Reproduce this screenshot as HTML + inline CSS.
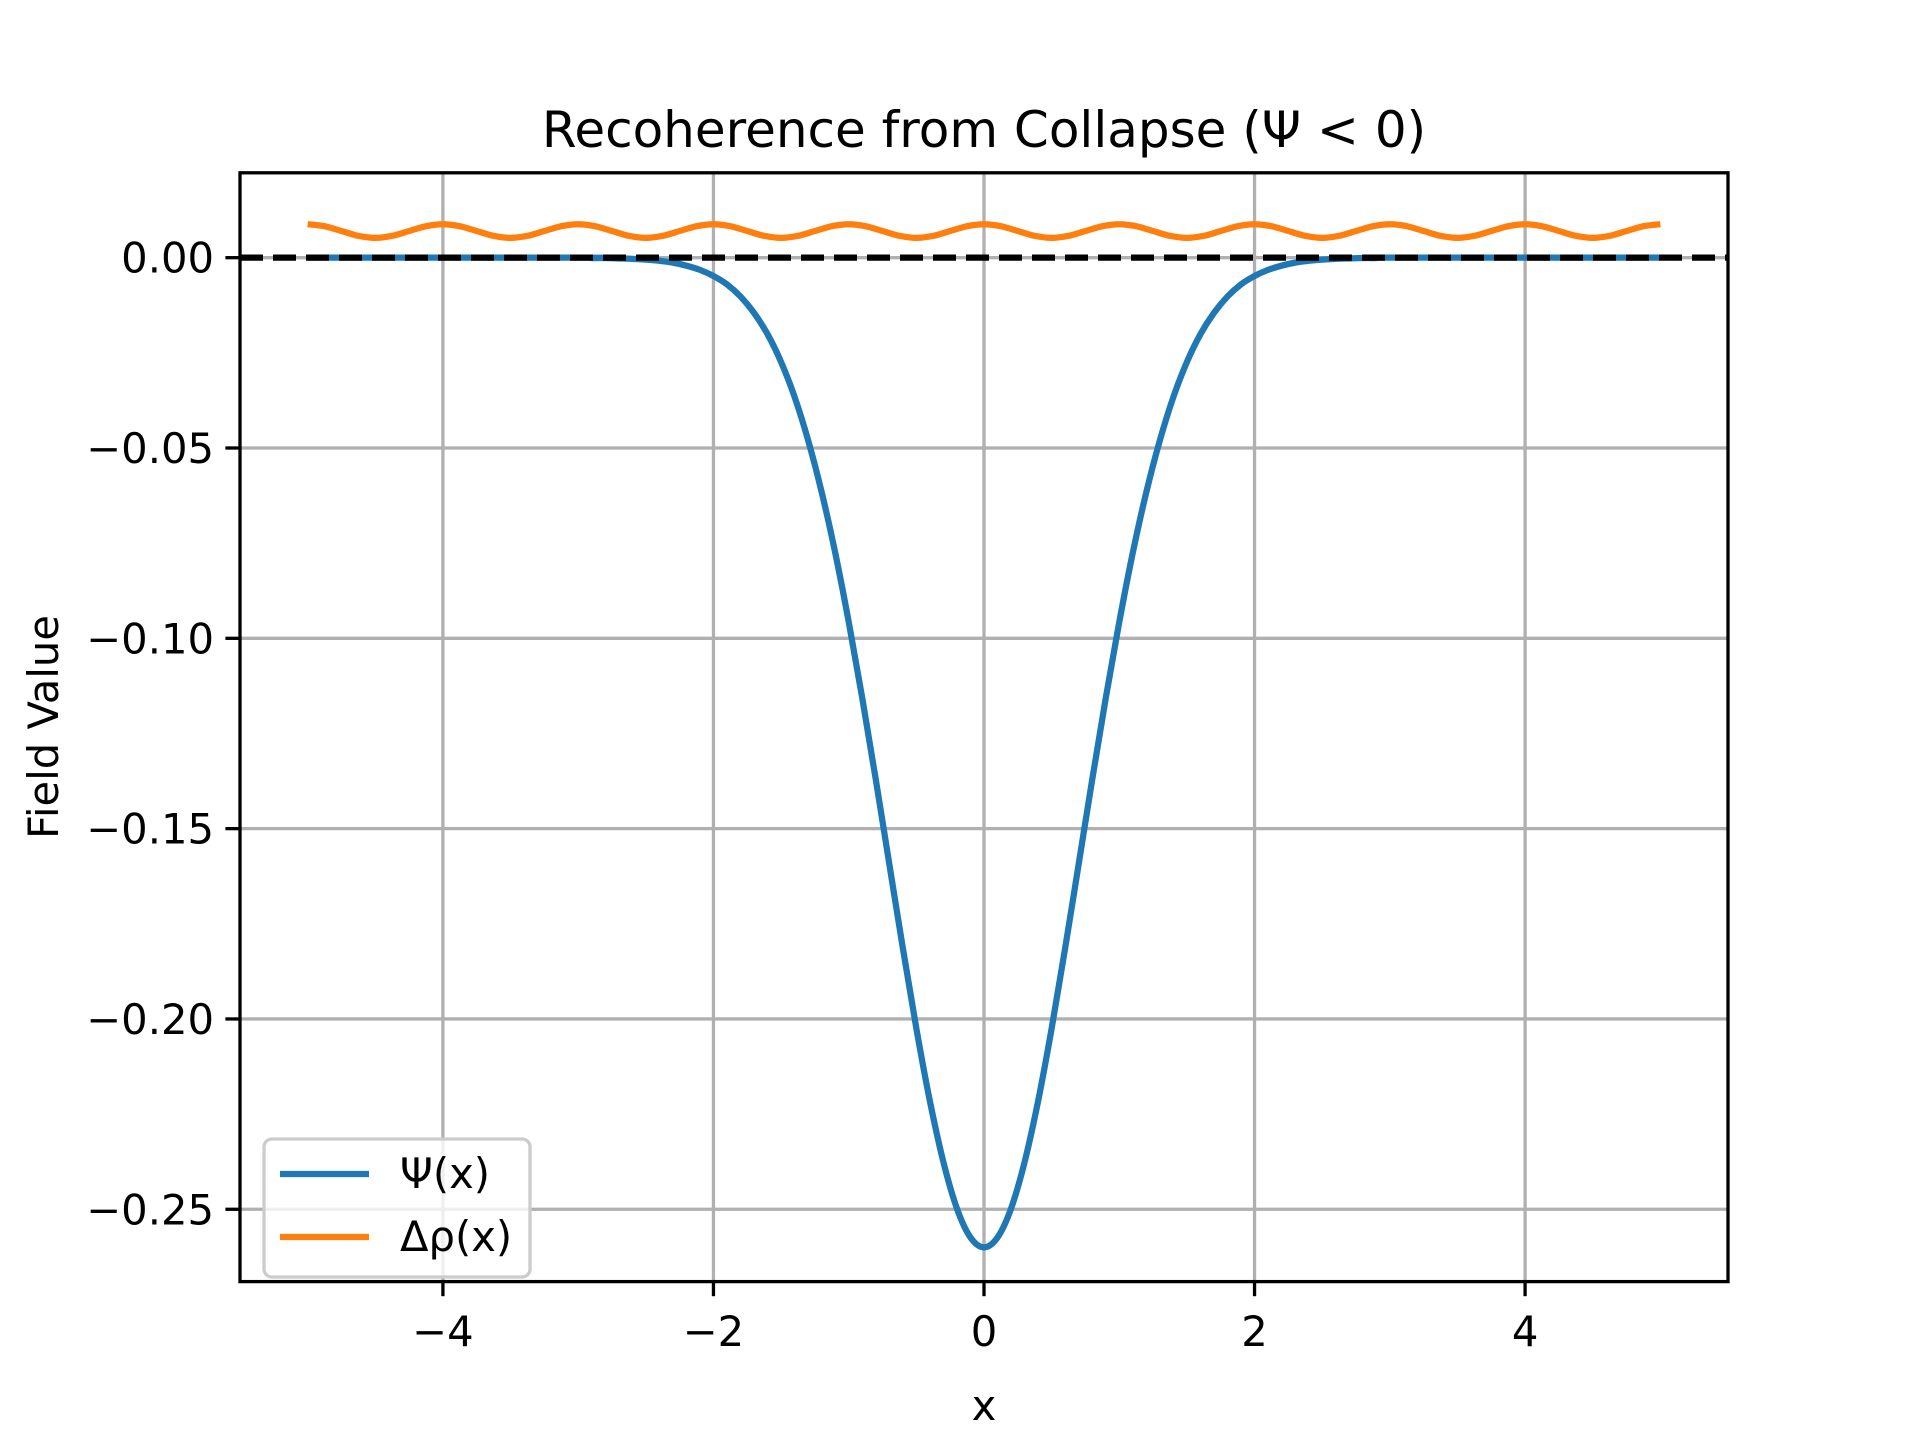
<!DOCTYPE html>
<html><head><meta charset="utf-8"><style>
html,body{margin:0;padding:0;background:#fff;}
svg{display:block;font-family:"DejaVu Sans","Liberation Sans",sans-serif;}
</style></head><body>
<svg id="chart" width="1920" height="1440" viewBox="0 0 1920 1440" xmlns="http://www.w3.org/2000/svg">
<rect width="1920" height="1440" fill="#fff"/>
<text x="984" y="147" font-size="50" text-anchor="middle" fill="#000">Recoherence from Collapse (Ψ &lt; 0)</text>
<g id="grid"></g>
<g id="plot"></g>
<rect x="240" y="172.8" width="1488" height="1108.8" fill="none" stroke="#000" stroke-width="3.3"/>
<g id="ticks"></g>
<text x="984" y="1420" font-size="41.7" text-anchor="middle">x</text>
<text transform="translate(58,727) rotate(-90)" font-size="41.7" text-anchor="middle">Field Value</text>
<g>
<rect x="264" y="1139" width="266" height="138" rx="8" fill="#fff" fill-opacity="0.8" stroke="#ccc" stroke-width="3.3"/>
<line x1="280" y1="1174" x2="369" y2="1174" stroke="#1f77b4" stroke-width="6.25"/>
<text x="400" y="1188" font-size="41.7">Ψ(x)</text>
<line x1="280" y1="1237" x2="369" y2="1237" stroke="#ff7f0e" stroke-width="6.25"/>
<text x="400" y="1251" font-size="41.7">Δρ(x)</text>
</g>
</svg>
<script>
const xTicks = [-4, -2, 0, 2, 4];
const xTickLabels = ["−4", "−2", "0", "2", "4"];
const yTicks = [0, -0.05, -0.10, -0.15, -0.20, -0.25];
const yTickLabels = ["0.00", "−0.05", "−0.10", "−0.15", "−0.20", "−0.25"];
const psiX = [-3,-2.9,-2.8,-2.7,-2.6,-2.5,-2.4,-2.3,-2.2,-2.1,-2,-1.9,-1.8,-1.7,-1.6,-1.5,-1.4,-1.3,-1.2,-1.1,-1,-0.9,-0.8,-0.7,-0.6,-0.5,-0.4,-0.3,-0.2,-0.1,0,0.1,0.2,0.3,0.4,0.5,0.6,0.7,0.8,0.9,1,1.1,1.2,1.3,1.4,1.5,1.6,1.7,1.8,1.9,2,2.1,2.2,2.3,2.4,2.5,2.6,2.7,2.8,2.9,3];
const psiY = [0,-0.0001,-0.0001,-0.0002,-0.0003,-0.0005,-0.0008,-0.0013,-0.0021,-0.0032,-0.0048,-0.0070,-0.0102,-0.0145,-0.0201,-0.0274,-0.0366,-0.0480,-0.0616,-0.0775,-0.0957,-0.1157,-0.1371,-0.1593,-0.1814,-0.2025,-0.2216,-0.2376,-0.2498,-0.2574,-0.2600,-0.2574,-0.2498,-0.2376,-0.2216,-0.2025,-0.1814,-0.1593,-0.1371,-0.1157,-0.0957,-0.0775,-0.0616,-0.0480,-0.0366,-0.0274,-0.0201,-0.0145,-0.0102,-0.0070,-0.0048,-0.0032,-0.0021,-0.0013,-0.0008,-0.0005,-0.0003,-0.0002,-0.0001,-0.0001,0];
const psiTailLeft = [-5, -3];
const psiTailRight = [3, 5];
const rhoStartX = -5;
const rhoStepX = 0.125;
const rhoY = [
0.0088,0.00827,0.0070,0.00573,0.0052,0.00573,0.0070,0.00827,
0.0088,0.00827,0.0070,0.00573,0.0052,0.00573,0.0070,0.00827,
0.0088,0.00827,0.0070,0.00573,0.0052,0.00573,0.0070,0.00827,
0.0088,0.00827,0.0070,0.00573,0.0052,0.00573,0.0070,0.00827,
0.0088,0.00827,0.0070,0.00573,0.0052,0.00573,0.0070,0.00827,
0.0088,0.00827,0.0070,0.00573,0.0052,0.00573,0.0070,0.00827,
0.0088,0.00827,0.0070,0.00573,0.0052,0.00573,0.0070,0.00827,
0.0088,0.00827,0.0070,0.00573,0.0052,0.00573,0.0070,0.00827,
0.0088,0.00827,0.0070,0.00573,0.0052,0.00573,0.0070,0.00827,
0.0088,0.00827,0.0070,0.00573,0.0052,0.00573,0.0070,0.00827,
0.0088];
const baselineY = 0;

const NS = "http://www.w3.org/2000/svg";
const L = 240, R = 1728, T = 172.8, B = 1281.6;
const xMin = -5.5, xMax = 5.5, yMin = -0.2690, yMax = 0.0223;
function sx(v){ return L + (v - xMin) / (xMax - xMin) * (R - L); }
function sy(v){ return B - (v - yMin) / (yMax - yMin) * (B - T); }
function mk(tag, attrs, parent){ const e = document.createElementNS(NS, tag); for (const k in attrs) e.setAttribute(k, attrs[k]); parent.appendChild(e); return e; }
function smoothPath(pts){
  let d = "M" + pts[0][0].toFixed(2) + "," + pts[0][1].toFixed(2);
  for (let i = 0; i < pts.length - 1; i++){
    const p0 = pts[Math.max(0,i-1)], p1 = pts[i], p2 = pts[i+1], p3 = pts[Math.min(pts.length-1,i+2)];
    const c1x = p1[0] + (p2[0]-p0[0])/6, c1y = p1[1] + (p2[1]-p0[1])/6;
    const c2x = p2[0] - (p3[0]-p1[0])/6, c2y = p2[1] - (p3[1]-p1[1])/6;
    d += " C" + c1x.toFixed(2)+","+c1y.toFixed(2)+" "+c2x.toFixed(2)+","+c2y.toFixed(2)+" "+p2[0].toFixed(2)+","+p2[1].toFixed(2);
  }
  return d;
}
const grid = document.getElementById("grid");
const plot = document.getElementById("plot");
const ticks = document.getElementById("ticks");

xTicks.forEach((v, i) => {
  const g = mk("line", {x1: sx(v), x2: sx(v), y1: T, y2: B, stroke: "#b0b0b0", "stroke-width": 3.3}, grid);
  
  
  const t = mk("line", {x1: sx(v), x2: sx(v), y1: B, y2: B + 14.6, stroke: "#000", "stroke-width": 3.3}, ticks);
  
  
  const lb = mk("text", {x: sx(v), y: 1346, "font-size": 41.7, "text-anchor": "middle"}, ticks);
  lb.textContent = xTickLabels[i];
  
  
});
yTicks.forEach((v, i) => {
  const g = mk("line", {x1: L, x2: R, y1: sy(v), y2: sy(v), stroke: "#b0b0b0", "stroke-width": 3.3}, grid);
  
  
  const t = mk("line", {x1: L - 14.6, x2: L, y1: sy(v), y2: sy(v), stroke: "#000", "stroke-width": 3.3}, ticks);
  
  
  const lb = mk("text", {x: L - 26, y: sy(v) + 15, "font-size": 41.7, "text-anchor": "end"}, ticks);
  lb.textContent = yTickLabels[i];
  
  
});

const psiPts = [[sx(psiTailLeft[0]), sy(0)]].concat(psiX.map((x, i) => [sx(x), sy(psiY[i])])).concat([[sx(psiTailRight[1]), sy(0)]]);
const psi = mk("path", {d: smoothPath(psiPts), fill: "none", stroke: "#1f77b4", "stroke-width": 6.25, "stroke-linejoin": "round"}, plot);



const rhoPts = rhoY.map((y, i) => [sx(rhoStartX + i * rhoStepX), sy(y)]);
const rho = mk("path", {d: smoothPath(rhoPts), fill: "none", stroke: "#ff7f0e", "stroke-width": 6.25, "stroke-linejoin": "round"}, plot);



const base = mk("line", {x1: L, x2: R, y1: sy(baselineY), y2: sy(baselineY), stroke: "#000", "stroke-width": 6.25, "stroke-dasharray": "23 10"}, plot);


</script>
</body></html>
